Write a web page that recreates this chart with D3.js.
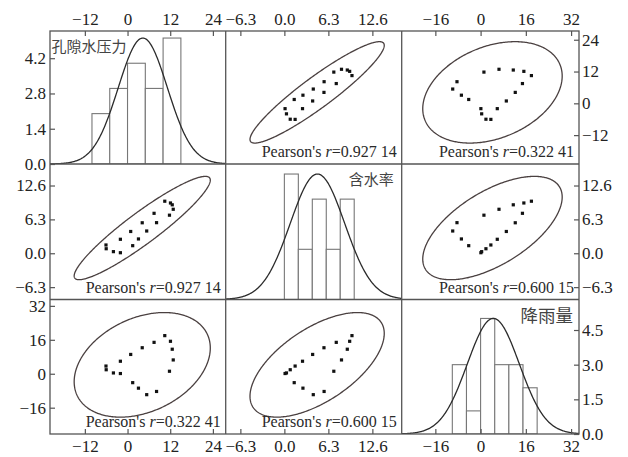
<!DOCTYPE html>
<html>
<head>
<meta charset="utf-8">
<script src="https://cdn.jsdelivr.net/npm/d3@7"></script>
<style>
  body { margin: 0; background: #fff; }
  svg { display: block; }
</style>
</head>
<body>
<svg id="chart" width="628" height="457"></svg>
<script>
// Variables of the scatter matrix (17 monitoring samples)
const variables = ["孔隙水压力", "含水率", "降雨量"];
const porePressure = [-6.06, -6.0, -3.97, -2.01, -2.01, 1.45, 0.89, 3.07, 4.13, 5.39, 7.46, 8.16, 10.47, 12.07, 12.57, 12.85, 11.79];
const waterContent = [1.54, 0.84, 0.30, 0.10, 2.60, 1.41, 4.05, 2.66, 5.67, 4.14, 7.43, 5.69, 9.68, 9.35, 9.01, 8.18, 7.08];
const rainfall     = [3.63, 1.89, 0.38, 0.10, 5.90, -4.20, 9.10, -6.79, 12.26, -9.86, 14.8, -8.35, 17.97, 15.3, 11.56, 6.51, 1.18];

// Pearson correlation coefficients between the variables
const pearsonR = [
  [1, 0.92714, 0.32241],
  [0.92714, 1, 0.60015],
  [0.32241, 0.60015, 1]
];

// Histogram bin edges and fitted normal curves for the diagonal
const binEdges = [
  [-10, -5, 0, 5, 10, 15],
  [0, 2, 4, 6, 8, 10],
  [-10, -5, 0, 5, 10, 15, 20]
];
const normalMean = [4.3, 4.74, 4.5];
const normalSd = [6.9, 3.9, 9.2];

// Axis ranges and tick values
const colDomains = [[-21.8, 27.6], [-8.4, 16.8], [-27.9, 34.8]];
const rowDomains = [[-22.9, 27.3], [-8.6, 16.6], [-28.4, 35.0]];
const varTicks = [[-12, 0, 12, 24], [-6.3, 0, 6.3, 12.6], [-16, 0, 16, 32]];
const countDomains = [[0, 5.28], [0, 5.40], [0, 5.82]];
const countTicks = [[0, 1.4, 2.8, 4.2], [], [0, 1.5, 3.0, 4.5]];

// ---------------------------------------------------------------
const series = [porePressure, waterContent, rainfall];
const n = porePressure.length;
const svg = d3.select("#chart");

const colX = [50, 225.7, 401.7, 579];
const rowY = [31, 164, 299.5, 434];

const frameColor = "#555";
const serif = "'Liberation Serif', 'Times New Roman', serif";
const cjk = "'Noto Sans CJK SC', sans-serif";

const xScales = colDomains.map((d, j) => d3.scaleLinear().domain(d).range([colX[j], colX[j + 1]]));
const yScales = rowDomains.map((d, i) => d3.scaleLinear().domain(d).range([rowY[i + 1], rowY[i]]));
const countScales = countDomains.map((d, i) => d3.scaleLinear().domain(d).range([rowY[i + 1], rowY[i]]));

const varFormat = [d3.format("d"), d3.format(".1f"), d3.format("d")];
const countFormat = d3.format(".1f");

// Prediction ellipse scale (95 %, F distribution with 2 and n-2 dof)
const alpha = 0.05;
const fQuant = ((n - 2) / 2) * (Math.pow(alpha, -2 / (n - 2)) - 1);
const kEll = Math.sqrt(2 * (n - 1) * (n + 1) / (n * (n - 2)) * fQuant);

const defs = svg.append("defs");

function fmtR(r) {
  const s = d3.format(".5f")(r);
  return s.slice(0, s.length - 2) + " " + s.slice(-2);
}

for (let i = 0; i < 3; i++) {
  for (let j = 0; j < 3; j++) {
    const x0 = colX[j], x1 = colX[j + 1], y0 = rowY[i], y1 = rowY[i + 1];
    const clipId = `clip-${i}-${j}`;
    defs.append("clipPath").attr("id", clipId)
      .append("rect").attr("x", x0).attr("y", y0).attr("width", x1 - x0).attr("height", y1 - y0);
    const g = svg.append("g").attr("clip-path", `url(#${clipId})`);
    const xs = xScales[j];

    if (i === j) {
      // Histogram with fitted normal curve
      const values = series[i];
      const edges = binEdges[i];
      const bins = d3.bin()
        .domain([edges[0], edges[edges.length - 1]])
        .thresholds(edges.slice(1, -1))(values);
      const ys = countScales[i];
      g.selectAll("rect.bar").data(bins).join("rect")
        .attr("class", "bar")
        .attr("x", b => xs(b.x0))
        .attr("width", b => xs(b.x1) - xs(b.x0))
        .attr("y", b => ys(b.length))
        .attr("height", b => ys(0) - ys(b.length))
        .attr("fill", "#fff")
        .attr("stroke", "#777")
        .attr("stroke-width", 1.1);

      const peak = d3.max(bins, b => b.length);
      const mu = normalMean[i], sd = normalSd[i];
      const dom = colDomains[j];
      const pts = d3.range(dom[0], dom[1] + 0.001, (dom[1] - dom[0]) / 300)
        .map(v => [v, peak * Math.exp(-((v - mu) ** 2) / (2 * sd * sd))]);
      g.append("path")
        .datum(pts)
        .attr("d", d3.line().x(d => xs(d[0])).y(d => ys(d[1])))
        .attr("fill", "none")
        .attr("stroke", "#2b2b2b")
        .attr("stroke-width", 1.3);
    } else {
      // Scatter with prediction ellipse
      const ys = yScales[i];
      const xv = series[j], yv = series[i];
      const r = pearsonR[i][j];
      const mx = d3.mean(xv), my = d3.mean(yv);
      const sx = d3.deviation(xv), sy = d3.deviation(yv);
      const ell = d3.range(0, 2 * Math.PI, Math.PI / 180).map(t => [
        mx + kEll * sx * Math.cos(t),
        my + kEll * sy * (r * Math.cos(t) + Math.sqrt(1 - r * r) * Math.sin(t))
      ]);
      g.append("path")
        .datum(ell)
        .attr("d", d3.line().x(d => xs(d[0])).y(d => ys(d[1])).curve(d3.curveLinearClosed))
        .attr("fill", "none")
        .attr("stroke", "#4a4040")
        .attr("stroke-width", 1.3);

      const pts = xv.map((v, k) => [v, yv[k]]);
      g.selectAll("rect.pt").data(pts).join("rect")
        .attr("class", "pt")
        .attr("x", d => xs(d[0]) - 1.6)
        .attr("y", d => ys(d[1]) - 1.6)
        .attr("width", 3.2)
        .attr("height", 3.2)
        .attr("fill", "#111");

      const label = svg.append("text")
        .attr("x", x1 - 5)
        .attr("y", y1 - 7)
        .attr("text-anchor", "end")
        .attr("font-family", serif)
        .attr("font-size", 16)
        .attr("fill", "#2a2a2a");
      label.append("tspan").text("Pearson's ");
      label.append("tspan").attr("font-style", "italic").text("r");
      label.append("tspan").text("=" + fmtR(r));
    }
  }
}

// Variable names on the diagonal
const nameLayout = [
  { x: colX[0] + 1.5, y: rowY[0] + 21, anchor: "start", size: 15 },
  { x: colX[2] - 8, y: rowY[1] + 21, anchor: "end", size: 15 },
  { x: colX[3] - 6, y: rowY[2] + 22, anchor: "end", size: 17.5 }
];
variables.forEach((name, i) => {
  svg.append("text")
    .attr("x", nameLayout[i].x)
    .attr("y", nameLayout[i].y)
    .attr("text-anchor", nameLayout[i].anchor)
    .attr("font-family", cjk)
    .attr("font-size", nameLayout[i].size)
    .attr("fill", "#444")
    .text(name);
});

// Panel frames
const frame = svg.append("g").attr("fill", "none").attr("stroke", frameColor).attr("stroke-width", 1.3);
frame.append("rect").attr("x", colX[0]).attr("y", rowY[0])
  .attr("width", colX[3] - colX[0]).attr("height", rowY[3] - rowY[0]);
[colX[1], colX[2]].forEach(x => frame.append("line").attr("x1", x).attr("x2", x).attr("y1", rowY[0]).attr("y2", rowY[3]));
[rowY[1], rowY[2]].forEach(y => frame.append("line").attr("x1", colX[0]).attr("x2", colX[3]).attr("y1", y).attr("y2", y));

// Axes on the outer edges
function styleAxis(sel) {
  sel.select(".domain").remove();
  sel.selectAll(".tick line").attr("stroke", frameColor).attr("stroke-width", 1.2);
  sel.selectAll(".tick text").attr("fill", "#222");
  sel.attr("font-family", serif).attr("font-size", 17);
}

for (let j = 0; j < 3; j++) {
  svg.append("g").attr("transform", `translate(0,${rowY[0]})`)
    .call(d3.axisTop(xScales[j]).tickValues(varTicks[j]).tickFormat(varFormat[j]).tickSize(-5).tickPadding(6))
    .call(styleAxis);
  svg.append("g").attr("transform", `translate(0,${rowY[3]})`)
    .call(d3.axisBottom(xScales[j]).tickValues(varTicks[j]).tickFormat(varFormat[j]).tickSize(-5).tickPadding(6))
    .call(styleAxis);
}

// Left edge: counts in row 1, variables in rows 2 and 3
svg.append("g").attr("transform", `translate(${colX[0]},0)`)
  .call(d3.axisLeft(countScales[0]).tickValues(countTicks[0]).tickFormat(countFormat).tickSize(-5).tickPadding(4))
  .call(styleAxis);
[1, 2].forEach(i => {
  svg.append("g").attr("transform", `translate(${colX[0]},0)`)
    .call(d3.axisLeft(yScales[i]).tickValues(varTicks[i]).tickFormat(varFormat[i]).tickSize(-5).tickPadding(4))
    .call(styleAxis);
});

// Right edge: variables in rows 1 and 2, counts in row 3
[0, 1].forEach(i => {
  svg.append("g").attr("transform", `translate(${colX[3]},0)`)
    .call(d3.axisRight(yScales[i]).tickValues(varTicks[i]).tickFormat(varFormat[i]).tickSize(-5).tickPadding(3))
    .call(styleAxis);
});
svg.append("g").attr("transform", `translate(${colX[3]},0)`)
  .call(d3.axisRight(countScales[2]).tickValues(countTicks[2]).tickFormat(countFormat).tickSize(-5).tickPadding(3))
  .call(styleAxis);
</script>
</body>
</html>
